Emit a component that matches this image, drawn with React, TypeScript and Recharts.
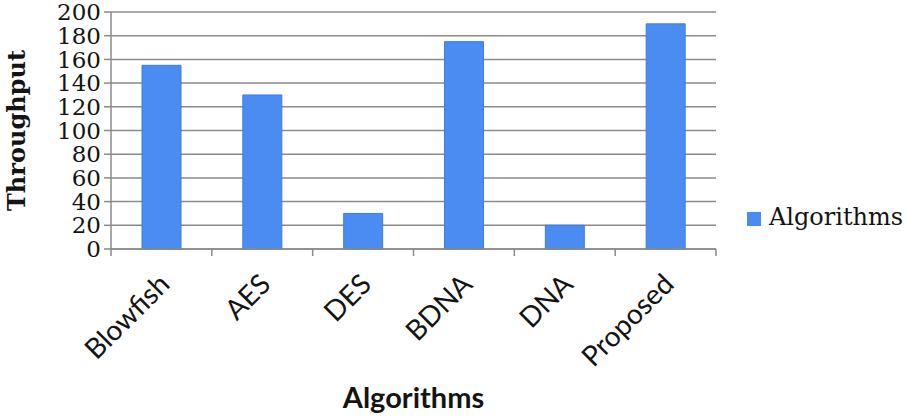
import { BarChart, Bar, XAxis, YAxis, CartesianGrid, Legend, Label } from 'recharts';

const algorithms = ['Blowfish', 'AES', 'DES', 'BDNA', 'DNA', 'Proposed'];
const throughput = [155, 130, 30, 175, 20, 190];
const yTicks = [0, 20, 40, 60, 80, 100, 120, 140, 160, 180, 200];

const data = algorithms.map((name, i) => ({ name, value: throughput[i] }));

const GRID = '#8a8a8a';
const INK = '#141414';

// rotated category label + tick marks on the category edges (Excel style)
function AlgoTick(props: any) {
  const { x, y, payload, index, visibleTicksCount } = props;
  const half = payload?.offset ?? 50;
  const isLast = index === visibleTicksCount - 1;
  return (
    <g>
      <line x1={x - half} x2={x - half} y1={y} y2={y + 7} stroke={GRID} strokeWidth={1.5} />
      {isLast && <line x1={x + half} x2={x + half} y1={y} y2={y + 7} stroke={GRID} strokeWidth={1.5} />}
      <g transform={`translate(${x + 10},${y + 37})`}>
        <text
          x={0}
          y={0}
          textAnchor="end"
          transform="rotate(-45)"
          fill={INK}
          fontFamily="Lato"
          fontSize={28}
        >
          {payload.value}
        </text>
      </g>
    </g>
  );
}

export default function App() {
  return (
    <div style={{ position: 'absolute', left: 0, top: 0, background: '#fff' }}>
      <BarChart
        width={905}
        height={419}
        data={data}
        margin={{ top: 12, right: 189, left: 0, bottom: 0 }}
        barSize={39}
      >
        <CartesianGrid vertical={false} stroke={GRID} strokeWidth={1.5} />
        <XAxis
          dataKey="name"
          height={170}
          tickLine={false}
          tickSize={0}
          tickMargin={0}
          axisLine={{ stroke: GRID, strokeWidth: 1.5 }}
          tick={<AlgoTick />}
          interval={0}
        >
          <Label
            value="Algorithms"
            position="insideBottom"
            offset={11}
            fill={INK}
            style={{ fontFamily: 'Lato', fontWeight: 700, fontSize: 29 }}
          />
        </XAxis>
        <YAxis
          width={111}
          domain={[0, 200]}
          ticks={yTicks}
          interval={0}
          tickSize={7}
          tickMargin={3}
          tickLine={{ stroke: GRID, strokeWidth: 1.5 }}
          axisLine={{ stroke: GRID, strokeWidth: 1.5 }}
          tick={{ fill: INK, fontFamily: 'DejaVu Serif', fontSize: 23 }}
        >
          <Label
            value="Throughput"
            angle={-90}
            position="insideLeft"
            offset={16}
            fill={INK}
            style={{ fontFamily: 'DejaVu Serif', fontWeight: 700, fontSize: 24, textAnchor: 'middle' }}
          />
        </YAxis>
        <Legend
          layout="horizontal"
          align="center"
          verticalAlign="middle"
          iconType="square"
          iconSize={14}
          wrapperStyle={{
            left: 747,
            top: 203,
            width: 'auto',
            fontFamily: 'DejaVu Serif',
            fontSize: 24,
          }}
          formatter={(v: string) => <span style={{ color: INK, marginLeft: 4 }}>{v}</span>}
        />
        <Bar
          dataKey="value"
          name="Algorithms"
          fill="#4a8cf2"
          stroke="#3b7de6"
          strokeWidth={1}
          isAnimationActive={false}
        />
      </BarChart>
    </div>
  );
}
